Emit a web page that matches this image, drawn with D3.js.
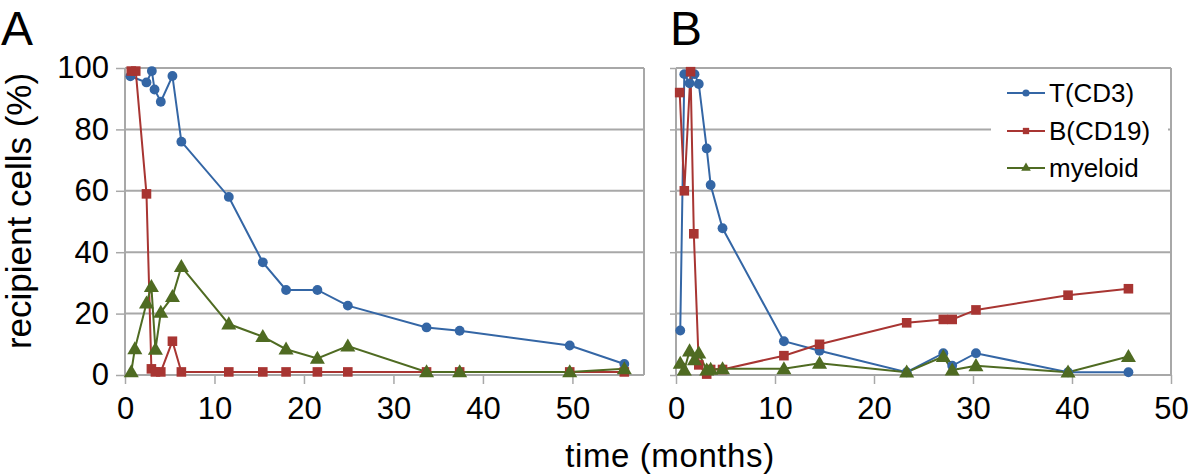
<!DOCTYPE html>
<html><head><meta charset="utf-8">
<script src="https://cdn.jsdelivr.net/npm/d3@7"></script>
<style>
body{margin:0;background:#fff;}
svg{display:block;font-family:"Liberation Sans",Arial,Helvetica,sans-serif;}
</style></head>
<body><svg id="c" width="1200" height="475"></svg>
<script>
// ---- data ----
const seriesNames = ["T(CD3)", "B(CD19)", "myeloid"];
const seriesColors = ["#3466a5", "#a83532", "#4f6b22"];
const yTicks = [0, 20, 40, 60, 80, 100];
const xTicks = [0, 10, 20, 30, 40, 50];

const A_T = [[0.6,97.3],[2.4,95.3],[3.0,99],[3.3,93],[4.0,89],[5.3,97.4],[6.3,76],[11.6,58],[15.4,36.7],[18,27.7],[21.5,27.7],[24.9,22.6],[33.7,15.5],[37.4,14.4],[49.7,9.6],[55.8,3.6]];
const A_B = [[0.7,99],[1.2,99],[2.4,59],[2.95,2],[3.4,1],[4.0,1],[5.3,11],[6.3,1],[11.6,1],[15.4,1],[18,1],[21.5,1],[24.9,1],[33.7,1],[37.4,1],[49.7,1],[55.8,1]];
const A_M = [[0.7,1],[1.1,8.5],[2.4,23.4],[2.95,28.8],[3.4,8.3],[4.0,20.4],[5.3,25.5],[6.3,35.3],[11.6,16.6],[15.4,12.5],[18,8.4],[21.5,5.4],[24.9,9.4],[33.7,1],[37.4,1],[49.7,1],[55.8,2]];

const B_T = [[0.43,14.5],[0.84,98],[1.37,95],[1.87,98],[2.3,94.8],[3.1,73.8],[3.5,61.9],[4.7,47.8],[10.9,11],[14.5,7.9],[23.3,0.9],[27.0,7.1],[27.9,3.0],[30.3,7.1],[39.6,0.9],[45.7,0.9]];
const B_B = [[0.37,92],[0.84,60],[1.47,98.8],[1.8,46],[2.3,3.3],[3.1,0.3],[3.5,1.8],[4.7,1.8],[10.9,6.3],[14.5,10],[23.3,17],[27.0,18.1],[27.9,18.1],[30.3,21.2],[39.6,26],[45.7,28.1]];
const B_M = [[0.43,3.8],[0.84,1.6],[1.37,7.8],[1.87,4.9],[2.3,7.1],[3.1,1.6],[3.5,1.8],[4.7,2],[10.9,2],[14.5,3.8],[23.3,0.9],[27.0,6],[27.9,1.6],[30.3,3],[39.6,0.9],[45.7,6]];

const xMaxA = 58, xMaxB = 50;
const panelLetters = ["A", "B"];
const yTitle = "recipient cells (%)";
const xTitle = "time (months)";

// ---- drawing ----
const svg = d3.select("#c");
const plotTop = 68, plotBottom = 375;
const gridColor = "#a8a8a8";

function panel(x0, x1, xMax, data, letter, letterX, legend) {
  const x = d3.scaleLinear().domain([0, xMax]).range([x0, x1]);
  const y = d3.scaleLinear().domain([0, 100]).range([plotBottom, plotTop]);
  const g = svg.append("g");
  g.selectAll("line.grid").data(yTicks.filter(d => d > 0)).join("line")
    .attr("x1", x0).attr("x2", x1).attr("y1", d => y(d)).attr("y2", d => y(d))
    .attr("stroke", gridColor).attr("stroke-width", 2);
  g.append("line").attr("x1", x1).attr("x2", x1).attr("y1", plotTop).attr("y2", plotBottom)
    .attr("stroke", gridColor).attr("stroke-width", 2);
  const ya = g.append("g").attr("transform", `translate(${x0},0)`)
    .call(d3.axisLeft(y).tickValues(yTicks).tickSize(letter === "A" ? 9 : 6).tickPadding(7));
  if (letter === "B") ya.selectAll("text").remove();
  const xa = g.append("g").attr("transform", `translate(0,${plotBottom})`)
    .call(d3.axisBottom(x).tickValues(xTicks).tickSize(9).tickPadding(13));
  [ya, xa].forEach(a => {
    a.select(".domain").attr("stroke", gridColor).attr("stroke-width", 2);
    a.selectAll(".tick line").attr("stroke", gridColor).attr("stroke-width", 1.5);
    a.selectAll("text").attr("font-size", 31).attr("fill", "#000")
      .attr("font-family", "Liberation Sans, Arial, sans-serif");
  });
  xa.select(".domain").attr("d", `M${x0},0H${x1}`);
  ya.select(".domain").attr("d", `M0,${plotTop}V${plotBottom}`);

  if (legend) {
    g.append("rect").attr("x", 991).attr("y", 74).attr("width", 177).attr("height", 112).attr("fill", "#fff");
  }

  const line = d3.line().x(d => x(d[0])).y(d => y(d[1]));
  data.forEach((s, i) => {
    g.append("path").datum(s).attr("d", line).attr("fill", "none")
      .attr("stroke", seriesColors[i]).attr("stroke-width", 2);
  });
  data.forEach((s, i) => {
    const sym = [d3.symbolCircle, d3.symbolSquare, d3.symbolTriangle][i];
    const size = [76, 92, 98][i];
    g.selectAll(null).data(s).join("path")
      .attr("transform", d => `translate(${x(d[0])},${y(d[1]) + (i === 2 ? 1 : 0)})`)
      .attr("d", d3.symbol().type(sym).size(size)).attr("fill", seriesColors[i]);
  });

  svg.append("text").attr("x", letterX).attr("y", 45).attr("font-size", 48)
    .attr("fill", "#000").text(letter);

  if (legend) {
    const rows = [93, 131, 168];
    seriesNames.forEach((n, i) => {
      const col = seriesColors[i];
      g.append("line").attr("x1", 1007).attr("x2", 1045).attr("y1", rows[i]).attr("y2", rows[i])
        .attr("stroke", col).attr("stroke-width", 2);
      const sym = [d3.symbolCircle, d3.symbolSquare, d3.symbolTriangle][i];
      g.append("path").attr("transform", `translate(1026,${rows[i]})`)
        .attr("d", d3.symbol().type(sym).size(40)).attr("fill", col);
      g.append("text").attr("x", 1049).attr("y", rows[i]).attr("dy", "0.36em")
        .attr("font-size", 26).attr("fill", "#000").text(n);
    });
  }
}

panel(125, 644, xMaxA, [A_T, A_B, A_M], panelLetters[0], 1, false);
panel(676, 1171, xMaxB, [B_T, B_B, B_M], panelLetters[1], 670, true);

svg.append("text").attr("transform", "translate(31,211) rotate(-90)")
  .attr("text-anchor", "middle").attr("font-size", 35).attr("fill", "#000").text(yTitle);
svg.append("text").attr("x", 670).attr("y", 467).attr("letter-spacing", 0.6)
  .attr("text-anchor", "middle").attr("font-size", 33).attr("fill", "#000").text(xTitle);
</script></body></html>
